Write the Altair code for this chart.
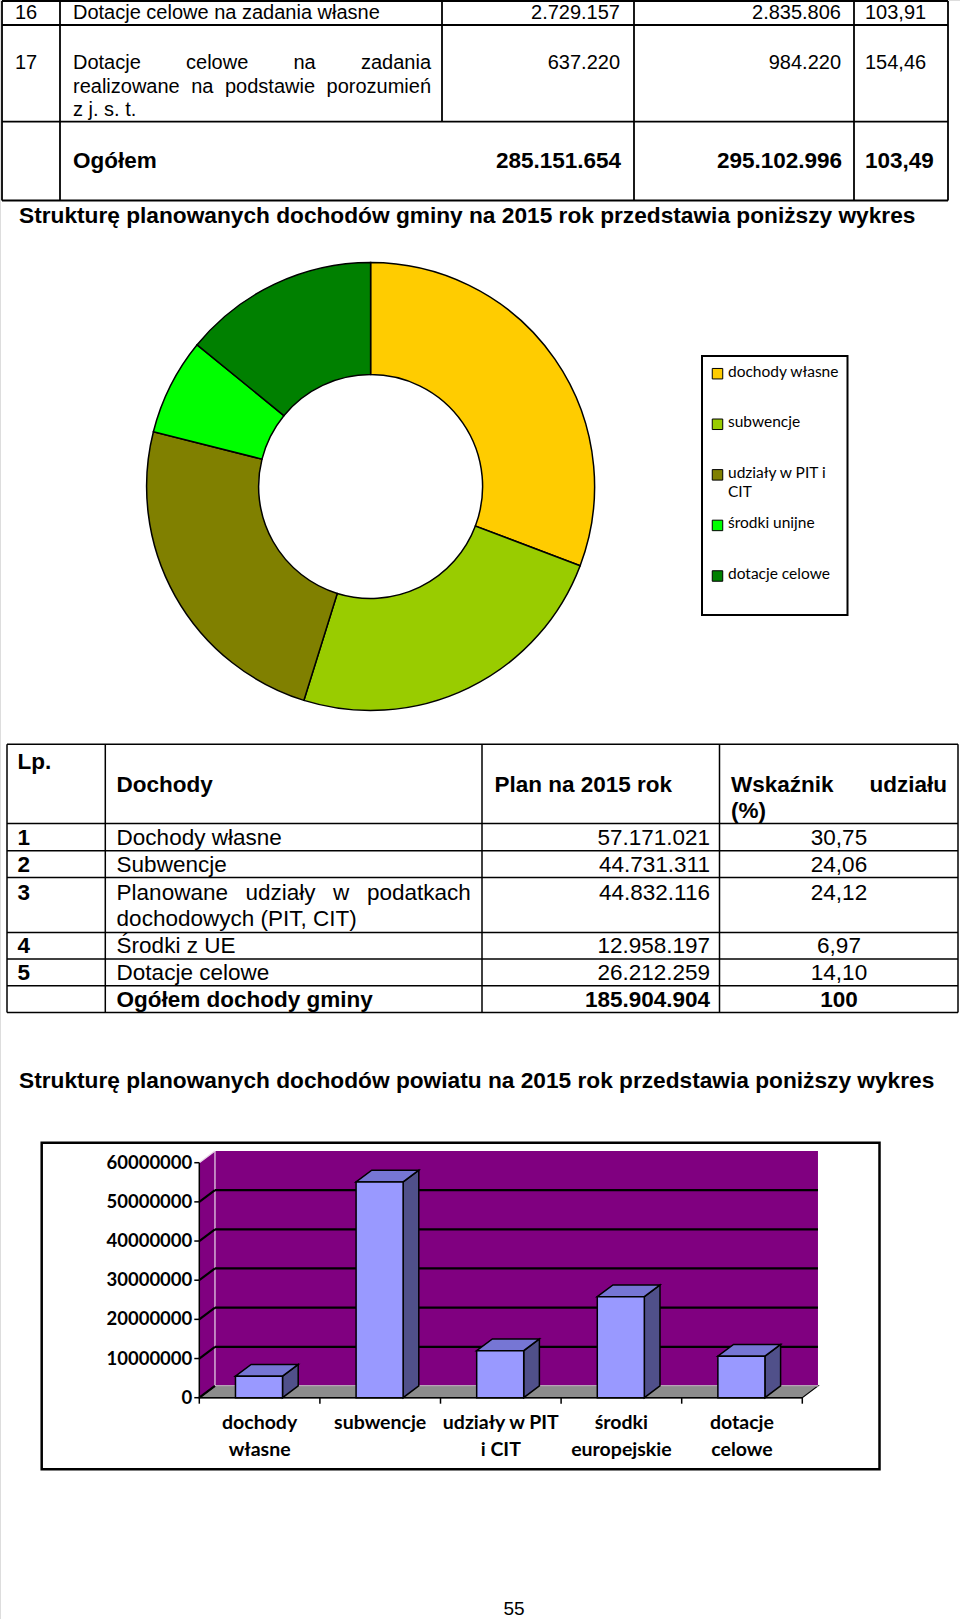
import altair as alt
import pandas as pd

# ---------------- data (content read from the page) ----------------
TOP_LP = ["16", "17"]
TOP_ROW16 = "Dotacje celowe na zadania własne"
TOP_ROW17 = ["Dotacje celowe na zadania", "realizowane na podstawie porozumień", "z j. s. t."]
TOP_PLAN_A = ["2.729.157", "637.220"]
TOP_PLAN_B = ["2.835.806", "984.220"]
TOP_INDEX = ["103,91", "154,46"]
TOP_TOTAL = ["Ogółem", "285.151.654", "295.102.996", "103,49"]

HEADING_1 = "Strukturę planowanych dochodów gminy na 2015 rok przedstawia poniższy wykres"
HEADING_2 = "Strukturę planowanych dochodów powiatu na 2015 rok przedstawia poniższy wykres"

DONUT_CATS = ["dochody własne", "subwencje", "udziały w PIT i CIT", "środki unijne", "dotacje celowe"]
DONUT_SHARES = [30.75, 24.06, 24.12, 6.97, 14.10]
DONUT_COLORS = ["#FFCC00", "#99CC00", "#808000", "#00FF00", "#008000"]
LEGEND_LABELS = ["dochody własne", "subwencje", "udziały w PIT i\nCIT", "środki unijne", "dotacje celowe"]

MID_HEAD = ["Lp.", "Dochody", "Plan na 2015 rok", "Wskaźnik", "udziału", "(%)"]
MID_LP = ["1", "2", "3", "4", "5"]
MID_NAMES = [["Dochody własne"], ["Subwencje"],
             ["Planowane udziały w podatkach", "dochodowych (PIT, CIT)"],
             ["Środki z UE"], ["Dotacje celowe"]]
MID_PLAN = ["57.171.021", "44.731.311", "44.832.116", "12.958.197", "26.212.259"]
MID_SHARE = ["30,75", "24,06", "24,12", "6,97", "14,10"]
MID_TOTAL = ["Ogółem dochody gminy", "185.904.904", "100"]

BAR_CATS = ["dochody\nwłasne", "subwencje", "udziały w PIT\ni CIT", "środki\neuropejskie", "dotacje\ncelowe"]
BAR_VALUES = [5500000, 55100000, 12000000, 25800000, 10600000]
Y_TICKS = [0, 10000000, 20000000, 30000000, 40000000, 50000000, 60000000]

PAGE_NUMBER = "55"

# ---------------- helpers ----------------
ARIAL = {'D': .722, 'o': .556, 't': .278, 'a': .556, 'c': .5, 'j': .222, 'e': .556, 'l': .222,
         'w': .722, 'n': .556, 'z': .5, 'd': .556, 'r': .333, 'i': .222, 'p': .556, 's': .5,
         'u': .556, 'm': .833, 'ń': .556, 'P': .667, 'y': .5, 'ł': .222, 'k': .5, 'h': .556}


def word_w(w, size):
    return sum(ARIAL.get(ch, .556) for ch in w) * size


def justify(line, x0, x1, y, size):
    words = line.split(" ")
    total = sum(word_w(w, size) for w in words)
    gap = (x1 - x0 - total) / (len(words) - 1)
    out, x = [], x0
    for w in words:
        out.append((x, y, w))
        x += word_w(w, size) + gap
    return out


def text_layer(items, size, bold=False, align="left", font="Liberation Sans",
               baseline="middle", dx=0, dy=0, line_height=None):
    df = pd.DataFrame(items, columns=["px", "py", "t"])
    kw = dict(align=align, baseline=baseline, font=font, fontSize=size,
              fontWeight="bold" if bold else "normal", color="black", dx=dx, dy=dy)
    if line_height:
        kw.update(lineBreak="\n", lineHeight=line_height)
    return alt.Chart(df).mark_text(**kw).encode(
        x=alt.X("px:Q", scale=None, axis=None),
        y=alt.Y("py:Q", scale=None, axis=None),
        text="t:N")


def rule_layer(segs, width=1.5, color="black"):
    df = pd.DataFrame(segs, columns=["x1", "y1", "x2", "y2"])
    return alt.Chart(df).mark_rule(color=color, strokeWidth=width).encode(
        x=alt.X("x1:Q", scale=None, axis=None), y=alt.Y("y1:Q", scale=None, axis=None),
        x2="x2:Q", y2="y2:Q")


layers = []

# ---------------- top table ----------------
TL, TR = 2, 948
th = [1, 25, 121.7, 200.5]
segs = [(TL, y, TR, y) for y in th]
segs += [(x, 1, x, 200.5) for x in (TL, 60, 634, 854, TR)]
segs += [(442, 1, 442, 121.7)]
layers.append(rule_layer(segs, 1.8))

FS1 = 20
row_y = [13, 63]
left_items = [(15, row_y[0], TOP_LP[0]), (73, row_y[0], TOP_ROW16), (15, row_y[1], TOP_LP[1])]
left_items += justify(TOP_ROW17[0], 73, 431, 63, FS1)
left_items += justify(TOP_ROW17[1], 73, 431, 87, FS1)
left_items += [(73, 110, TOP_ROW17[2])]
left_items += [(865, row_y[i], TOP_INDEX[i]) for i in range(2)]
layers.append(text_layer(left_items, FS1))
right_items = [(620, row_y[i], TOP_PLAN_A[i]) for i in range(2)]
right_items += [(841, row_y[i], TOP_PLAN_B[i]) for i in range(2)]
layers.append(text_layer(right_items, FS1, align="right"))
layers.append(text_layer([(73, 161, TOP_TOTAL[0]), (865, 161, TOP_TOTAL[3])], 22.5, bold=True))
layers.append(text_layer([(621, 161, TOP_TOTAL[1]), (842, 161, TOP_TOTAL[2])], 22.5, bold=True, align="right"))

# headings
layers.append(text_layer([(19, 216, HEADING_1), (19, 1081, HEADING_2)], 22.7, bold=True))

# ---------------- donut ----------------
donut_df = pd.DataFrame({"cat": DONUT_CATS, "share": DONUT_SHARES, "idx": list(range(len(DONUT_CATS)))})
cscale = alt.Scale(domain=DONUT_CATS, range=DONUT_COLORS)
layers.append(
    alt.Chart(donut_df).mark_arc(radius=224, radius2=112, stroke="black", strokeWidth=1.5).encode(
        theta=alt.Theta("share:Q", stack=True),
        color=alt.Color("cat:N", scale=cscale, legend=None),
        order=alt.Order("idx:Q"),
        x=alt.value(370.6), y=alt.value(486.5))
)

# legend (drawn from the same colour scale)
leg_df = pd.DataFrame({"cat": DONUT_CATS, "label": LEGEND_LABELS})
layers.append(
    alt.Chart(leg_df.head(1)).mark_rect(fill="white", stroke="black", strokeWidth=2).encode(
        x=alt.value(702), x2=alt.value(847.5), y=alt.value(356), y2=alt.value(615))
)
lscale = alt.Scale(type="point", domain=DONUT_CATS, range=[373.7, 576], padding=0)
layers.append(
    alt.Chart(leg_df).mark_square(size=110, stroke="black", strokeWidth=1, opacity=1).encode(
        x=alt.value(717.5),
        y=alt.Y("cat:N", scale=lscale, axis=None),
        color=alt.Color("cat:N", scale=cscale, legend=None))
)
layers.append(
    alt.Chart(leg_df).mark_text(align="left", baseline="top", font="Lato", fontSize=15.5,
                                fontWeight="normal", dy=-9, lineBreak="\n", lineHeight=19.5,
                                color="black").encode(
        x=alt.value(728),
        y=alt.Y("cat:N", scale=lscale, axis=None),
        text="label:N")
)

# ---------------- middle table ----------------
ML, MR = 7, 958
mh = [744.3, 823.5, 850.8, 877.6, 932.4, 959, 985.8, 1012.5]
segs = [(ML, y, MR, y) for y in mh]
segs += [(x, mh[0], x, mh[-1]) for x in (ML, 105.3, 482, 719.5, MR)]
layers.append(rule_layer(segs, 1.5))

FS2 = 22.5
lp_y = [838, 864.5, 892.5, 946, 972.5]
bold_left = [(17.5, 762, MID_HEAD[0]), (116.6, 785, MID_HEAD[1]), (494.5, 785, MID_HEAD[2]),
             (731, 785, MID_HEAD[3]), (731, 811, MID_HEAD[5]), (116.6, 999.5, MID_TOTAL[0])]
bold_left += [(17.5, lp_y[i], MID_LP[i]) for i in range(5)]
layers.append(text_layer(bold_left, FS2, bold=True))
layers.append(text_layer([(947, 785, MID_HEAD[4]), (710, 999.5, MID_TOTAL[1])], FS2, bold=True, align="right"))
layers.append(text_layer([(839, 999.5, MID_TOTAL[2])], FS2, bold=True, align="center"))

reg_left = []
for i, lines in enumerate(MID_NAMES):
    if len(lines) == 1:
        reg_left.append((116.6, lp_y[i], lines[0]))
    else:
        reg_left += justify(lines[0], 116.6, 470.7, lp_y[i], FS2)
        reg_left.append((116.6, lp_y[i] + 26.5, lines[1]))
layers.append(text_layer(reg_left, FS2))
layers.append(text_layer([(710, lp_y[i], MID_PLAN[i]) for i in range(5)], FS2, align="right"))
layers.append(text_layer([(839, lp_y[i], MID_SHARE[i]) for i in range(5)], FS2, align="center"))

# ---------------- 3-D column chart ----------------
layers.append(
    alt.Chart(leg_df.head(1)).mark_rect(fillOpacity=0, stroke="black", strokeWidth=2.5).encode(
        x=alt.value(41.7), x2=alt.value(879.5), y=alt.value(1142.7), y2=alt.value(1469.3))
)

YMAX = Y_TICKS[-1]
NCAT = len(BAR_CATS)
XS = alt.Scale(domain=[0, NCAT], range=[199.3, 802.3], nice=False, zero=False)
YS = alt.Scale(domain=[0, YMAX], range=[1397.7, 1162.7], nice=False, zero=False)
DX = 0.13          # depth offset (category units)
DY = 3000000       # depth offset (value units)
BAR_L, BAR_R = 0.30, 0.69


def X(f):
    return alt.X(f, scale=XS, axis=None)


def Y(f):
    return alt.Y(f, scale=YS, axis=None, stack=None)


# back wall
wall = pd.DataFrame({"x": [DX], "x2": [NCAT + DX], "y": [DY], "y2": [YMAX + DY]})
layers.append(alt.Chart(wall).mark_rect(color="#800080").encode(x=X("x:Q"), x2="x2:Q", y=Y("y:Q"), y2="y2:Q"))
# left wall
lwall = pd.DataFrame({"x": [0, DX], "yt": [YMAX, YMAX + DY], "yb": [0, DY]})
layers.append(alt.Chart(lwall).mark_area(color="#800080").encode(x=X("x:Q"), y=Y("yt:Q"), y2="yb:Q"))
# floor
floor = pd.DataFrame({"x": [0, DX, NCAT, NCAT + DX], "yt": [0, DY, DY, DY], "yb": [0, 0, 0, DY]})
layers.append(alt.Chart(floor).mark_area(color="#8C8C8C", stroke="black", strokeWidth=1.2).encode(
    x=X("x:Q"), y=Y("yt:Q"), y2="yb:Q"))
# light edges between walls / floor
edges = pd.DataFrame({"x": [DX, DX, 0], "y": [DY, DY, YMAX], "x2": [DX, NCAT + DX, DX],
                      "y2": [YMAX + DY, DY, YMAX + DY]})
layers.append(alt.Chart(edges).mark_rule(color="#E8D8E8", strokeWidth=1.2).encode(
    x=X("x:Q"), y=Y("y:Q"), x2="x2:Q", y2="y2:Q"))
# gridlines
grid_vals = Y_TICKS[1:-1]
gback = pd.DataFrame({"x": [DX] * len(grid_vals), "x2": [NCAT + DX] * len(grid_vals),
                      "y": [v + DY for v in grid_vals]})
layers.append(alt.Chart(gback).mark_rule(color="black", strokeWidth=2.2).encode(
    x=X("x:Q"), x2="x2:Q", y=Y("y:Q"), y2="y:Q"))
gleft_vals = Y_TICKS[:-1]
gleft = pd.DataFrame({"x": [0] * len(gleft_vals), "x2": [DX] * len(gleft_vals),
                      "y": gleft_vals, "y2": [v + DY for v in gleft_vals]})
layers.append(alt.Chart(gleft).mark_rule(color="black", strokeWidth=2.2).encode(
    x=X("x:Q"), x2="x2:Q", y=Y("y:Q"), y2="y2:Q"))

# bars
front_rows, top_rows, side_rows = [], [], []
for i, v in enumerate(BAR_VALUES):
    xl, xr = i + BAR_L, i + BAR_R
    front_rows.append(dict(b=i, x=xl, x2=xr, y=0, y2=v))
    top_rows += [dict(b=i, x=xl, yt=v, yb=v), dict(b=i, x=xl + DX, yt=v + DY, yb=v),
                 dict(b=i, x=xr, yt=v + DY, yb=v), dict(b=i, x=xr + DX, yt=v + DY, yb=v + DY)]
    side_rows += [dict(b=i, x=xr, yt=v, yb=0), dict(b=i, x=xr + DX, yt=v + DY, yb=DY)]
layers.append(alt.Chart(pd.DataFrame(side_rows)).mark_area(color="#50508A", stroke="black", strokeWidth=1.5).encode(
    x=X("x:Q"), y=Y("yt:Q"), y2="yb:Q", detail="b:N"))
layers.append(alt.Chart(pd.DataFrame(top_rows)).mark_area(color="#7676D4", stroke="black", strokeWidth=1.5).encode(
    x=X("x:Q"), y=Y("yt:Q"), y2="yb:Q", detail="b:N"))
layers.append(alt.Chart(pd.DataFrame(front_rows)).mark_rect(color="#9999FF", stroke="black", strokeWidth=1.5).encode(
    x=X("x:Q"), x2="x2:Q", y=Y("y:Q"), y2="y2:Q"))

# axes
axl = pd.DataFrame({"x": [0, 0], "x2": [0, NCAT], "y": [0, 0], "y2": [YMAX, 0]})
layers.append(alt.Chart(axl).mark_rule(color="black", strokeWidth=1.5).encode(
    x=X("x:Q"), x2="x2:Q", y=Y("y:Q"), y2="y2:Q"))
yt = pd.DataFrame({"v": Y_TICKS, "x": [0] * len(Y_TICKS)})
layers.append(alt.Chart(yt).mark_rule(color="black", strokeWidth=1.5, xOffset=-5).encode(
    x=X("x:Q"), x2="x:Q", y=Y("v:Q")))
layers.append(alt.Chart(yt).mark_text(align="right", baseline="middle", font="Lato", fontSize=18.5,
                                      fontWeight="bold", dx=-7, color="black").encode(
    x=X("x:Q"), y=Y("v:Q"), text=alt.Text("v:Q", format="d")))
xt = pd.DataFrame({"x": list(range(NCAT + 1)), "y": [0] * (NCAT + 1)})
layers.append(alt.Chart(xt).mark_rule(color="black", strokeWidth=1.5, y2Offset=6).encode(
    x=X("x:Q"), y=Y("y:Q"), y2="y:Q"))
xl_df = pd.DataFrame({"x": [i + 0.5 for i in range(NCAT)], "y": [0] * NCAT, "label": BAR_CATS})
layers.append(alt.Chart(xl_df).mark_text(align="center", baseline="top", font="Lato", fontSize=19.5,
                                         fontWeight="bold", dy=16.5, lineBreak="\n", lineHeight=27,
                                         color="black").encode(
    x=X("x:Q"), y=Y("y:Q"), text="label:N"))

# page number
layers.append(text_layer([(514, 1609, PAGE_NUMBER)], 19, align="center"))

chart = alt.layer(*layers).resolve_scale(
    x="independent", y="independent", color="independent"
).properties(
    width=960, height=1619, padding=0, autosize=alt.AutoSizeParams(type="none")
).configure_view(strokeWidth=0).configure(background="white")

chart.save("out.html", embed_options={"renderer": "svg", "actions": False})
